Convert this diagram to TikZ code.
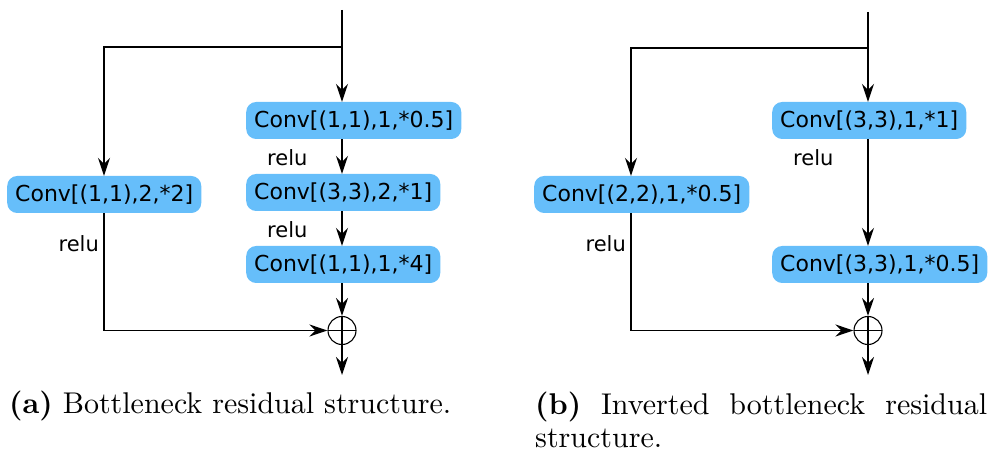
\documentclass[tikz,border=0pt]{standalone}
\usepackage{fontspec}
\newfontfamily\boxfont{DejaVu Sans}
% caption face: the 10pt design of Latin Modern, scaled up
\newfontfamily\capfont[Extension=.otf, UprightFont=*-regular, BoldFont=*-bold]{lmroman10}
\usetikzlibrary{arrows.meta}

\definecolor{convblue}{RGB}{102,190,250}

\tikzset{
  conv/.style={fill=convblue, rounded corners=10pt, minimum height=37pt,
    inner xsep=8pt, inner ysep=0pt, anchor=west,
    font=\boxfont\fontsize{22}{26}\selectfont},
  lbl/.style={inner sep=0pt, font=\boxfont\fontsize{21}{25}\selectfont},
  flow/.style={line width=1.3pt, -{Stealth[length=18pt,width=12pt,inset=6pt]}},
  sumnode/.style={circle, draw, line width=1.1pt, minimum size=28pt, inner sep=0pt,
    path picture={\draw[line width=1.1pt]
      (path picture bounding box.north) -- (path picture bounding box.south)
      (path picture bounding box.west) -- (path picture bounding box.east);}},
  captext/.style={inner sep=0pt, font=\capfont\fontsize{30}{33}\selectfont},
}

\begin{document}
\begin{tikzpicture}[x=1pt, y=-1pt]
\useasboundingbox (0,0) rectangle (989,454);

% ---------- (a) bottleneck residual block ----------
\coordinate (aIn) at (342,10);
\coordinate (aFork) at (342,47);
\coordinate (aSplit) at (104,47);
\coordinate (aCorner) at (104,330.5);
\coordinate (aOut) at (342,375);

\node[conv] (a1) at (246,120.5) {Conv[(1,1),1,*0.5]};
\node[conv] (a2) at (246,192.5) {Conv[(3,3),2,*1]};
\node[conv] (a3) at (246,264.5) {Conv[(1,1),1,*4]};
\node[conv] (aS) at (7,194.5) {Conv[(1,1),2,*2]};
\node[sumnode] (aAdd) at (342,330.5) {};

\draw[flow] (aIn) -- (aIn |- a1.north);
\draw[flow] (aFork) -- (aSplit) -- (aSplit |- aS.north);
\draw[flow] (aFork |- a1.south) -- (aFork |- a2.north);
\draw[flow] (aFork |- a2.south) -- (aFork |- a3.north);
\draw[flow] (aFork |- a3.south) -- (aAdd.north);
\draw[flow] (aSplit |- aS.south) -- (aCorner) -- (aAdd.west);
\draw[flow] (aAdd.south) -- (aOut);

\node[lbl, anchor=base west] (ar1) at (267,166) {relu};
\node[lbl, anchor=base west] (ar2) at (267,238) {relu};
\node[lbl, anchor=base east] (ar3) at (99,252) {relu};

% ---------- (b) inverted bottleneck residual block ----------
\coordinate (bIn) at (868,12);
\coordinate (bFork) at (868,48);
\coordinate (bSplit) at (631,48);
\coordinate (bCorner) at (631,330.5);
\coordinate (bOut) at (868,375);

\node[conv] (b1) at (772,120.5) {Conv[(3,3),1,*1]};
\node[conv] (b2) at (772,264.5) {Conv[(3,3),1,*0.5]};
\node[conv] (bS) at (534,194.5) {Conv[(2,2),1,*0.5]};
\node[sumnode] (bAdd) at (868,330.5) {};

\draw[flow] (bIn) -- (bIn |- b1.north);
\draw[flow] (bFork) -- (bSplit) -- (bSplit |- bS.north);
\draw[flow] (bFork |- b1.south) -- (bFork |- b2.north);
\draw[flow] (bFork |- b2.south) -- (bAdd.north);
\draw[flow] (bSplit |- bS.south) -- (bCorner) -- (bAdd.west);
\draw[flow] (bAdd.south) -- (bOut);

\node[lbl, anchor=base west] (br1) at (793,166) {relu};
\node[lbl, anchor=base east] (br2) at (626,252) {relu};

% ---------- captions ----------
\node[captext, anchor=base west] (capA) at (9,414)
  {\textbf{(a)} Bottleneck residual structure.};
\node[captext, anchor=north west, text width=452pt, align=justify] (capB) at (535,392)
  {\textbf{(b)} Inverted bottleneck residual \mbox{structure.}};
\end{tikzpicture}
\end{document}
